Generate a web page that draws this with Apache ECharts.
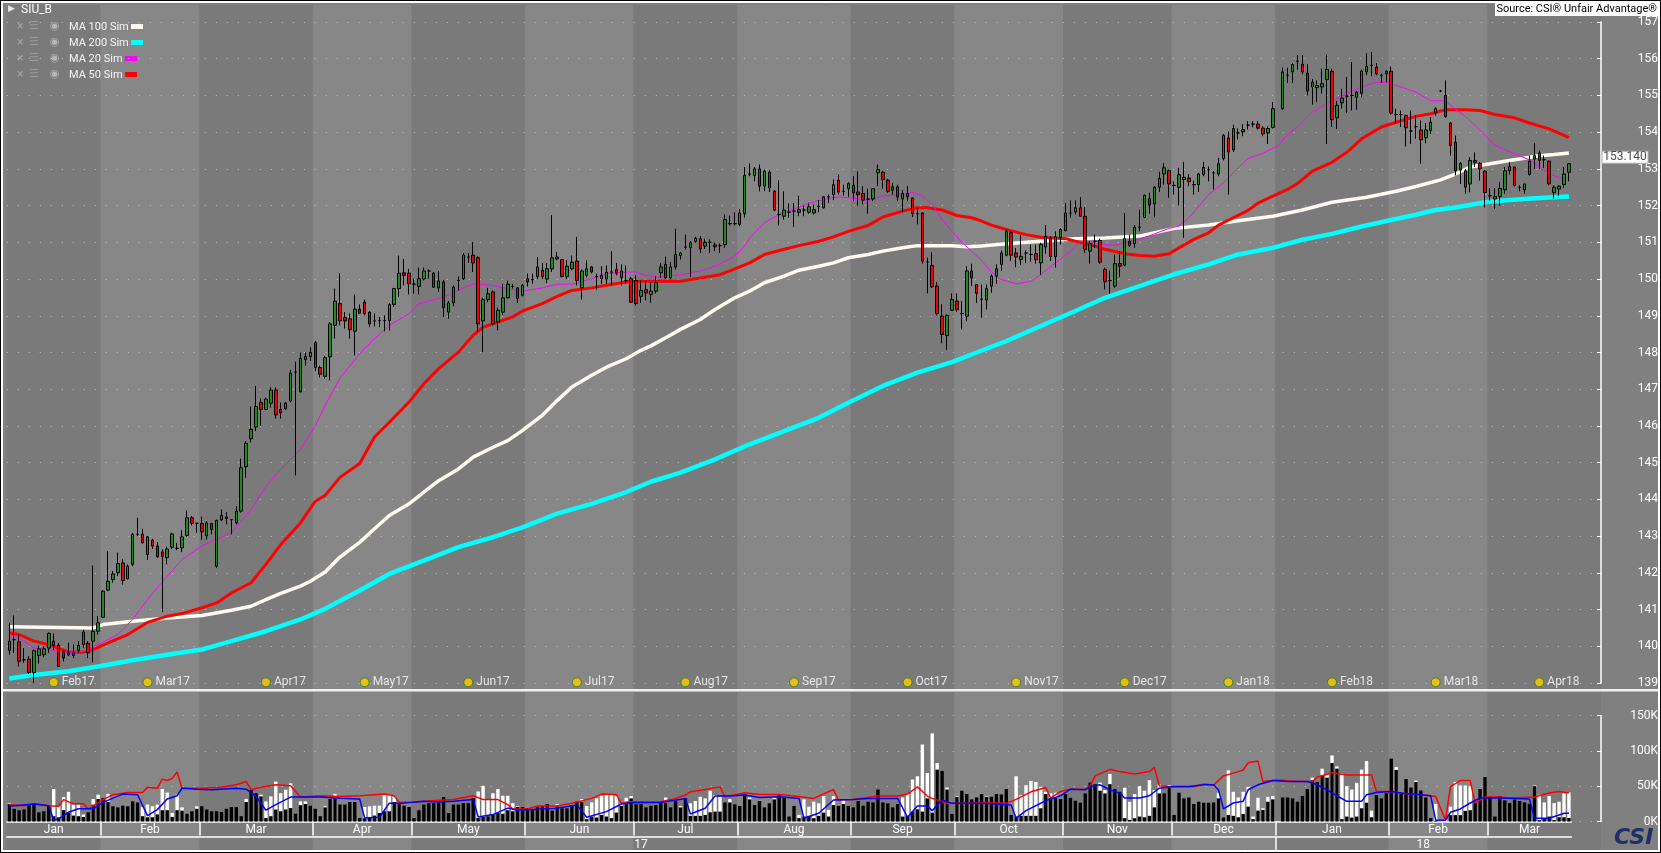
<!DOCTYPE html>
<html>
<head>
<meta charset="utf-8">
<title>SIU_B</title>
<script src="https://cdn.jsdelivr.net/npm/echarts@6/dist/echarts.min.js"></script>
<style>
  html, body { margin: 0; padding: 0; background: #808080; }
  #main { width: 1661px; height: 853px; }
</style>
</head>
<body>
<div id="main"></div>
<script>
// daily bars, [open, high, low, close]; null = no bar
var candles = [
  [139.89,140.64,139.77,140.14],[140.18,140.84,139.82,140.18],[140.12,140.32,139.45,139.59],[139.63,139.95,139.55,139.63],[139.65,139.73,139.25,139.29],
  [139.29,139.91,139.0,139.88],[139.75,140.02,139.53,139.93],[139.77,140.0,139.7,139.93],[139.95,140.38,139.82,140.35],[140.14,140.35,139.9,140.02],
  [140.03,140.09,139.45,139.45],[139.85,139.91,139.59,139.68],[139.77,140.1,139.73,139.82],[139.75,140.05,139.68,139.82],[139.89,140.14,139.82,140.02],
  [140.05,140.45,139.95,140.39],[140.08,140.14,139.68,139.82],[140.14,142.2,139.56,140.41],[140.41,140.82,140.32,140.64],[140.79,141.53,140.77,141.5],
  [141.53,142.59,141.5,141.77],[141.82,142.05,141.73,141.97],[142.0,142.55,141.91,142.25],[142.27,142.38,141.68,141.79],[141.84,142.23,141.82,142.18],
  [142.23,143.09,142.18,143.05],[143.05,143.5,143.0,143.05],[143.05,143.2,142.8,142.82],[142.5,143.0,142.35,142.98],[142.89,142.93,142.65,142.73],
  [142.73,142.84,142.41,142.44],[142.57,142.64,140.93,142.45],[142.41,142.71,142.23,142.65],[142.7,143.09,142.65,143.06],[142.67,142.82,142.62,142.67],
  [142.68,143.16,142.56,142.98],[143.02,143.7,142.98,143.5],[143.5,143.55,143.29,143.35],[143.35,143.36,143.09,143.35],[143.34,143.53,142.9,143.12],
  [143.0,143.41,142.91,143.36],[143.34,143.36,143.05,143.18],[142.18,143.45,142.14,143.43],[143.44,143.73,143.41,143.56],[143.48,143.65,143.32,143.52],
  [143.45,143.46,143.05,143.45],[143.36,143.82,143.32,143.68],[143.68,145.11,143.64,144.86],[144.89,145.59,144.59,145.53],[145.65,146.53,145.55,145.91],
  [145.97,147.09,145.86,146.53],[146.64,146.75,146.0,146.45],[146.45,146.77,146.44,146.73],[146.62,147.05,146.5,146.98],[146.98,147.05,146.2,146.3],
  [146.45,146.64,146.2,146.36],[146.47,146.65,146.44,146.62],[146.68,147.53,146.65,147.44],[147.47,147.75,144.65,147.47],[146.93,148.0,146.91,147.84],
  [147.8,148.0,147.64,147.89],[147.89,148.14,147.77,148.0],[148.27,148.32,147.5,147.59],[147.59,147.64,147.32,147.41],[147.35,147.91,147.29,147.86],
  [147.88,148.83,147.24,148.78],[148.74,149.74,148.38,149.4],[149.33,150.16,148.74,148.86],[148.95,149.1,148.65,148.86],[148.92,149.06,148.38,148.62],
  [148.58,149.58,147.92,149.18],[149.18,149.31,149.06,149.07],[149.37,149.44,149.01,149.06],[149.1,149.13,148.69,148.78],[148.86,149.07,148.71,148.86],
  [148.87,148.97,148.69,148.87],[148.87,149.01,148.58,148.87],[148.87,149.35,148.6,149.31],[149.31,149.76,149.24,149.74],[149.74,150.64,149.51,150.16],
  [150.17,150.55,149.83,150.1],[150.16,150.28,149.58,149.87],[149.86,150.01,149.6,149.86],[149.8,150.31,149.58,150.01],[150.0,150.31,149.96,150.22],
  [150.22,150.26,150.01,150.22],[150.16,150.19,149.76,149.78],[149.76,150.22,149.65,149.95],[149.92,149.98,148.97,149.22],[149.1,149.4,148.92,149.35],
  [149.35,149.83,149.26,149.78],[149.96,150.07,149.69,149.96],[150.01,150.71,149.98,150.65],[150.6,150.71,150.44,150.6],[150.65,151.01,150.19,150.44],
  [150.58,150.62,148.56,148.78],[148.86,149.49,148.01,149.44],[149.44,149.76,149.37,149.6],[149.65,149.69,148.74,148.78],[148.83,149.22,148.6,149.15],
  [149.1,149.87,149.01,149.49],[149.49,149.96,149.47,149.86],[149.8,149.87,149.74,149.8],[149.76,149.78,149.35,149.47],[149.56,149.87,149.53,149.83],
  [150.01,150.15,149.8,149.92],[149.99,150.15,149.87,149.99],[150.07,150.6,150.0,150.33],[150.24,150.44,150.0,150.07],[150.0,150.44,149.89,150.28],
  [150.28,151.74,150.19,150.58],[150.6,150.74,150.51,150.55],[150.53,150.55,150.04,150.07],[150.07,150.51,150.0,150.35],[150.28,150.64,150.24,150.46],
  [150.49,151.15,149.83,149.96],[149.76,150.26,149.44,150.22],[150.1,150.51,150.04,150.28],[150.33,150.35,150.15,150.19],[150.07,150.15,149.71,150.07],
  [150.1,150.35,149.87,150.01],[150.0,150.37,149.87,150.19],[150.19,150.76,149.83,150.19],[150.26,150.44,150.1,150.16],[150.04,150.4,149.83,150.22],
  [149.96,150.37,149.87,149.96],[150.01,150.06,149.35,149.37],[149.96,150.1,149.28,149.33],[149.53,149.96,149.35,149.69],[149.71,149.96,149.42,149.62],
  [149.58,149.92,149.35,149.67],[149.67,150.08,149.61,149.9],[150.17,150.44,150.03,150.33],[150.4,150.61,150.01,150.03],[150.03,150.46,149.99,150.33],
  [150.33,151.37,150.26,150.67],[150.64,150.73,150.53,150.71],[150.87,151.21,150.8,150.87],[150.85,151.03,150.06,150.99],[151.03,151.15,150.99,151.11],
  [151.1,151.17,150.71,150.82],[150.9,151.1,150.82,151.0],[151.0,151.08,150.71,151.0],[150.93,150.99,150.76,150.88],[150.91,150.97,150.71,150.91],
  [150.94,151.76,150.85,151.62],[151.51,151.73,151.46,151.51],[151.51,151.82,151.46,151.51],[151.49,151.91,151.44,151.8],[151.78,153.05,151.67,152.82],
  [152.86,153.15,152.8,152.86],[152.82,153.05,152.66,153.0],[153.0,153.12,152.39,152.53],[152.53,152.98,152.39,152.94],[152.91,152.96,152.37,152.48],
  [152.39,152.42,151.85,151.88],[151.76,152.69,151.46,151.76],[151.71,152.39,151.62,151.88],[151.82,152.06,151.67,151.82],[151.85,152.07,151.42,151.85],
  [151.82,152.27,151.71,151.89],[151.88,152.0,151.71,151.88],[151.82,152.06,151.78,151.97],[151.8,152.03,151.76,151.89],[151.98,152.15,151.82,151.98],
  [151.94,152.26,151.92,152.24],[152.24,152.3,152.07,152.24],[152.3,152.71,152.15,152.57],[152.69,152.85,152.3,152.37],[152.39,152.57,152.27,152.39],
  [152.46,152.64,152.24,152.6],[152.55,152.8,152.12,152.35],[152.37,152.93,152.0,152.3],[152.33,152.53,152.03,152.15],[152.18,152.46,151.78,152.18],
  [152.18,152.48,152.12,152.46],[152.89,153.12,152.53,152.98],[152.91,152.94,152.46,152.71],[152.69,152.73,152.35,152.39],[152.42,152.62,152.3,152.51],
  [152.51,152.57,152.12,152.24],[152.18,152.42,151.82,152.33],[152.33,152.53,152.12,152.24],[152.21,152.21,151.69,151.78],[151.78,151.94,151.49,151.78],
  [151.8,151.82,150.42,150.49],[150.46,150.58,149.61,150.46],[150.37,150.73,149.76,149.79],[149.81,149.92,149.01,149.06],[148.99,149.31,148.25,148.49],
  [148.46,149.04,148.07,149.01],[149.15,149.61,149.13,149.44],[149.4,149.61,149.1,149.17],[149.06,149.4,148.63,149.06],[148.99,150.35,148.85,150.22],
  [150.22,150.42,149.81,150.03],[149.85,149.85,149.35,149.61],[149.45,149.85,148.95,149.45],[149.43,149.85,149.17,149.74],[149.81,150.13,149.63,150.08],
  [150.08,150.4,149.87,150.28],[150.4,150.78,150.22,150.71],[150.65,151.35,150.62,151.29],[151.26,151.29,150.49,150.65],[150.71,150.85,150.32,150.6],
  [150.53,151.2,150.38,150.62],[150.71,150.78,150.44,150.71],[150.67,150.94,150.47,150.67],[150.69,150.94,150.42,150.53],[150.44,150.99,150.11,150.94],
  [150.87,151.47,150.69,151.17],[151.12,151.17,150.49,150.61],[150.61,151.3,150.31,151.15],[151.14,151.39,150.94,151.35],[151.32,152.07,151.3,151.8],
  [151.8,152.14,151.67,151.8],[151.83,152.14,151.76,151.94],[151.94,152.23,151.69,151.71],[151.71,151.96,150.71,150.81],[150.76,151.03,150.42,150.96],
  [151.03,151.21,150.85,151.03],[151.05,151.1,150.42,150.46],[150.26,150.31,149.72,149.93],[149.96,150.23,149.6,149.96],[149.81,150.67,149.76,150.42],
  [150.42,150.76,150.05,150.35],[150.38,151.8,150.35,151.1],[151.03,151.21,150.87,150.92],[150.96,151.47,150.85,151.41],[151.41,151.89,151.3,151.41],
  [151.68,152.3,151.66,152.28],[152.19,152.35,151.78,152.01],[152.05,152.53,151.68,152.5],[152.5,152.92,152.37,152.74],[152.86,153.16,152.57,153.03],
  [152.95,152.98,152.21,152.59],[152.55,152.66,152.3,152.55],[152.5,153.03,152.01,152.84],[152.71,153.19,151.12,152.77],[152.75,152.86,152.53,152.65],
  [152.57,152.68,152.3,152.57],[152.57,152.89,152.37,152.86],[152.85,153.19,152.8,153.04],[152.98,153.07,152.66,152.98],[152.89,152.94,152.44,152.89],
  [152.86,153.3,152.8,153.14],[153.28,153.95,153.23,153.91],[153.84,154.02,152.3,153.46],[153.52,154.2,153.46,154.1],[153.98,154.1,153.8,153.98],
  [154.01,154.22,153.89,154.07],[154.19,154.3,154.07,154.19],[154.22,154.3,154.13,154.22],[154.22,154.3,154.07,154.11],[154.11,154.16,153.89,153.95],
  [153.98,154.16,153.68,154.1],[154.13,154.82,154.1,154.64],null,[154.64,155.76,154.61,155.64],[155.55,155.75,155.34,155.55],
  [155.64,155.88,155.34,155.84],[155.93,156.1,155.7,155.93],[155.85,156.1,155.58,155.64],[155.61,155.85,155.0,155.12],[155.23,155.45,154.75,155.36],
  [155.21,155.41,154.82,155.27],[155.23,155.73,155.05,155.32],[155.43,156.12,153.68,155.71],[155.66,155.73,154.14,154.34],[154.39,154.85,154.09,154.73],
  [154.8,155.18,154.64,154.93],[154.98,155.5,154.52,154.98],[155.0,155.91,154.59,155.0],[154.95,155.12,154.61,155.09],[155.06,155.7,154.95,155.66],
  [155.64,156.15,155.55,155.79],[155.82,156.18,155.52,155.82],[155.77,155.88,155.55,155.59],[155.55,155.59,155.34,155.55],[155.59,155.68,155.36,155.66],
  [155.66,155.79,154.48,154.52],[154.48,154.64,154.23,154.48],[154.48,154.59,154.14,154.48],[154.45,154.48,153.61,154.12],[154.03,154.59,153.68,154.03],
  [154.15,154.45,153.82,154.15],[154.06,154.32,153.14,153.79],[153.85,154.25,153.7,154.06],[154.05,154.41,153.95,154.27],[154.52,154.68,154.45,154.64],
  [155.12,155.14,155.1,155.12],[155.0,155.41,154.39,154.43],[154.25,154.27,153.36,153.64],[153.73,153.91,152.82,152.95],[152.97,153.18,152.59,153.15],
  [152.95,153.0,152.32,152.5],[152.59,153.32,152.36,153.23],[153.23,153.45,153.05,153.18],[153.15,153.18,152.68,153.0],[152.94,152.97,151.95,152.36],
  [152.27,152.48,152.14,152.27],[152.18,152.48,151.91,152.25],[152.25,152.64,152.0,152.47],[152.43,153.05,152.32,152.95],[152.95,153.18,152.85,153.06],
  [153.05,153.06,152.52,152.55],[152.5,152.55,152.39,152.5],[152.43,152.59,152.32,152.59],[152.85,153.36,152.82,153.21],[153.27,153.7,153.0,153.36],
  [153.43,153.5,153.0,153.23],[153.25,153.36,153.03,153.25],[153.21,153.23,152.55,152.59],[152.36,152.55,152.18,152.5],[152.45,152.55,152.27,152.53],
  [152.57,153.05,152.48,152.86],[152.91,153.15,152.66,153.14]
];

// moving averages, [bar index, value]
var ma100 = [[0,140.53],[17,140.5],[19,140.59],[25,140.68],[32,140.77],[39,140.84],[45,140.98],[49,141.09],[52,141.27],[55,141.44],[59,141.64],[61,141.77],[64,142.02],[67,142.43],[71,142.83],[74,143.2],[77,143.56],[81,143.88],[84,144.2],[87,144.51],[91,144.83],[94,145.15],[98,145.42],[101,145.6],[104,145.88],[108,146.29],[111,146.69],[114,147.06],[118,147.38],[121,147.6],[125,147.83],[128,148.06],[130,148.18],[133,148.4],[136,148.63],[140,148.9],[143,149.17],[147,149.49],[150,149.67],[153,149.9],[157,150.08],[160,150.24],[164,150.35],[167,150.44],[170,150.58],[174,150.67],[177,150.76],[181,150.85],[184,150.91],[187,150.91],[191,150.91],[194,150.88],[197,150.9],[202,150.96],[209,151.03],[216,151.1],[222,151.12],[229,151.17],[236,151.38],[243,151.47],[249,151.59],[256,151.71],[262,151.88],[268,152.09],[275,152.23],[281,152.39],[285,152.52],[290,152.7],[293,152.86],[296,153.05],[300,153.14],[303,153.21],[306,153.27],[310,153.36],[313,153.39],[316,153.43]];
var ma200 = [[0,139.12],[5,139.22],[12,139.32],[18,139.45],[25,139.62],[32,139.77],[39,139.91],[45,140.14],[52,140.41],[59,140.73],[64,141.02],[71,141.52],[77,141.97],[84,142.33],[91,142.7],[98,142.97],[104,143.24],[111,143.61],[118,143.88],[125,144.2],[130,144.48],[136,144.73],[143,145.09],[150,145.5],[157,145.86],[164,146.22],[170,146.63],[177,147.09],[184,147.45],[191,147.74],[196,148.0],[202,148.31],[209,148.72],[216,149.13],[222,149.49],[229,149.81],[236,150.13],[243,150.4],[249,150.67],[256,150.85],[262,151.07],[268,151.23],[274,151.43],[280,151.61],[285,151.75],[289,151.88],[293,151.95],[299,152.09],[304,152.15],[310,152.21],[316,152.25]];
var ma50 = [[0,140.36],[2,140.32],[5,140.14],[8,140.05],[12,139.84],[15,139.84],[17,139.91],[20,140.09],[24,140.32],[28,140.65],[32,140.82],[35,140.89],[39,141.05],[42,141.18],[45,141.45],[49,141.73],[52,142.23],[55,142.77],[59,143.36],[62,143.95],[64,144.11],[67,144.6],[71,144.98],[74,145.7],[77,146.1],[81,146.65],[84,147.15],[87,147.56],[91,148.01],[94,148.47],[96,148.69],[99,148.83],[102,148.97],[104,149.13],[108,149.33],[111,149.53],[114,149.69],[118,149.76],[121,149.83],[125,149.92],[128,149.94],[131,149.94],[136,149.94],[140,150.03],[144,150.12],[147,150.28],[150,150.44],[153,150.67],[157,150.81],[160,150.91],[164,151.03],[167,151.15],[170,151.3],[174,151.46],[177,151.69],[181,151.85],[184,151.94],[186,151.94],[189,151.88],[192,151.73],[195,151.67],[197,151.58],[199,151.47],[202,151.35],[206,151.21],[209,151.14],[214,151.1],[216,151.03],[219,150.94],[222,150.81],[226,150.69],[229,150.64],[232,150.62],[235,150.69],[237,150.85],[240,151.08],[243,151.26],[245,151.47],[248,151.67],[251,151.87],[253,152.07],[256,152.26],[259,152.44],[261,152.6],[264,152.94],[268,153.18],[271,153.45],[274,153.82],[278,154.14],[281,154.27],[285,154.43],[288,154.5],[291,154.61],[295,154.61],[298,154.59],[301,154.48],[305,154.39],[308,154.25],[312,154.09],[315,153.91],[316,153.85]];
var ma20 = [[0,140.32],[2,140.23],[5,139.95],[8,139.91],[12,139.82],[15,139.86],[18,140.05],[22,140.32],[25,140.73],[28,141.27],[32,141.91],[35,142.36],[39,142.73],[42,142.91],[45,143.09],[49,143.73],[52,144.36],[55,144.82],[59,145.36],[62,146.0],[64,146.56],[67,147.3],[71,147.97],[74,148.38],[77,148.74],[81,149.06],[83,149.33],[85,149.4],[87,149.47],[89,149.56],[92,149.76],[94,149.86],[96,149.86],[99,149.8],[102,149.71],[104,149.67],[108,149.76],[111,149.86],[114,149.86],[118,150.01],[121,150.15],[125,150.19],[127,150.19],[129,150.1],[131,150.05],[136,150.12],[140,150.22],[143,150.35],[147,150.62],[149,150.9],[150,151.12],[153,151.53],[155,151.69],[158,151.85],[162,152.07],[165,152.17],[168,152.24],[172,152.18],[174,152.14],[177,152.26],[181,152.3],[183,152.37],[185,152.26],[187,152.03],[189,151.62],[191,151.3],[193,151.0],[195,150.76],[197,150.5],[199,150.2],[201,149.99],[204,149.87],[207,149.94],[209,150.13],[212,150.44],[215,150.76],[217,151.03],[219,151.01],[222,150.94],[224,150.92],[226,150.99],[229,151.08],[232,151.23],[235,151.38],[237,151.44],[239,151.67],[241,151.98],[243,152.3],[246,152.62],[249,153.03],[251,153.28],[254,153.43],[257,153.62],[259,153.93],[261,154.14],[264,154.55],[268,154.85],[271,155.05],[274,155.23],[277,155.36],[279,155.36],[281,155.27],[285,155.09],[288,154.86],[291,154.85],[292,154.73],[295,154.43],[298,154.05],[301,153.64],[305,153.41],[308,153.25],[310,153.05],[312,152.86],[314,152.77],[316,152.75]];

// volume panel, thousands
var volBlack = [
  25,18,16,17,24,25,13,14.5,22,7.5, 6,16,13,8.4,7.5,6.5,13,23.8,31.8,33,
  27.6,21.5,20,22.4,21.5,28.5,27,7.5,6,6, 10,16,16,6.5,16,15.4,11,14.5,18,21.5,
  17,14.5,14.5,13.5,18,20.5,20.5,7.5,27.6,45, 40,35.5,5,7.5,17,14.5,17,19,11,23,
  24.8,22.4,18,7.5,20,32,33,24,24,27.6, 27.6,5,4.7,6,8.4,12,14.5,14.5,27.6,24.8,
  22.4,20.5,5,16,24,26,26,27,34.6,12, 24,24,26,26,33,5,6.5,7.5,10,12,
  11,16,14.5,20.5,20.5,19,17.3,21,22,24.8, 15.4,22,18.7,18.7,23.4,28,28,3.3,7,5.6,
  9.3,7,4.7,12.6,22,28,32.7,24.3,24.8,20, 22.4,23.4,26.6,27,20,29.4,20,32.7,8,8,
  8,9.3,13,14,14,27,27,24.3,22,38.8, 31.3,23.4,29,20,25.7,31.3,37.4,34,7,22,
  4.7,7,8,4.7,8,12.6,7,23.4,22,24.8, 22,20,29,22.4,28,27,45.3,27,25.7,20,
  24.8,7,8,14,17.3,14,32.7,12.6,73.4,71.5, 45.3,10.7,35,43.5,38.8,31.3,34,38.8,35,35,
  38.8,38.3,45.8,9.3,7,8,8,8,8,18.7, 38.8,32.7,34,31.8,38.8,33.6,29.4,26.6,39.7,55,
  52.8,43.5,39.7,52.8,45.8,42,4.7,2.3,4.7,7, 6,8,20,39.7,39.7,48,9.3,40.7,32.7,34,
  24.8,28,26.6,26.6,27,32.7,5.6,9.3,8,6, 10.7,21,3.3,15.4,16.4,28,31.3,0,34,34,
  32.7,28,36,45.8,58.4,56,65.4,62,82.7,74.8, 3.3,7,5.6,7,18.7,26.6,6,37.4,32.7,40,
  89,73,41,60,48,56,44,34,5,1, 0,0,9,9,9,15,16,27,46,63,
  35,7,36,30,26,31,29,27,25,50, 2,4,7,2,6,6,5
];
var volWhite = [
  26,0,0,0,0,0,0,0,0,46, 21.5,34.6,42,24,24,10,0,31.8,37.9,0,
  39,0,0,0,0,0,0,20.5,24,21.5, 24,46,41,12,38,20,0,0,21.5,0,
  0,0,0,0,0,0,0,0,32,0, 0,38,28.5,35.5,56.5,40,45,54,0,28.5,
  28.5,0,0,0,21.5,0,39,0,0,0, 0,0,20.5,21.5,22.4,22.4,39,38,35.5,26,
  0,0,0,0,0,0,0,0,0,0, 0,0,0,0,0,42.5,50.5,31,40,46,
  36.4,36.4,26,21.5,0,0,0,0,0,0, 0,24.8,0,0,0,0,31.8,22,27,32.7,
  36.4,37.4,37.4,36,25.7,33.6,36,0,0,0, 0,0,0,34,0,0,22,0,25.7,29,
  35,32.7,43.5,37.4,35,0,31.8,0,0,0, 34,0,0,0,0,34,0,0,0,0,
  9.3,31.3,21,28,25.7,36,16.4,36,0,31.3, 0,0,0,0,0,0,0,0,0,0,
  0,34,38.8,59.3,64,108.9,68.7,124.8,82.7,0, 48,0,36,0,0,0,0,0,36,0,
  0,0,0,0,64,37.4,51.4,57.5,56,49, 42,39.7,40.7,0,0,0,0,0,0,0,
  0,55,44.4,67.3,0,0,47.7,28,38.8,50, 43.5,58.4,44.4,52.3,0,51.4,0,0,0,0,
  0,0,0,0,0,40.7,0,72.4,42,34, 42,49,7,33.6,18.7,35,36,0,0,0,
  0,0,0,0,62,0,74.8,67.3,93.5,78, 67.8,50,45.3,54.7,73.4,85.5,15.4,0,0,0,
  0,77,0,0,0,58,0,0,0,25, 0,3,21,56,51,51,50,0,0,0,
  0,0,0,0,0,0,0,0,0,51, 38,27,36,26,28,40,41
];
var volRed = [[0,23.8],[3,22.4],[5,25],[8,22.4],[10,21.5],[11,31],[13,25],[15,25],[16,18],[19,31],[21,38],[24,41],[27,41],[28,48.6],[30,47],[31,60],[32,58],[33,61],[34,70],[35,47],[39,47],[43,48.6],[46,52],[48,56.5],[49,45],[51,48.6],[54,52],[57,50.5],[59,34.6],[63,36.4],[67,35.5],[71,36.4],[76,39],[78,36.4],[79,27],[82,27.6],[87,30],[90,31],[94,36.4],[96,31],[99,31],[101,23.8],[102,17.8],[105,17.8],[107,22],[111,22],[114,25.7],[118,32.7],[120,38.8],[123,38.3],[124,25.7],[126,28],[132,28],[135,32.7],[137,37.4],[138,42],[141,45.3],[144,49],[145,35],[149,40.7],[152,38.3],[156,38.3],[159,36],[163,32.7],[167,45.3],[168,30.4],[171,31.3],[176,36],[180,36],[182,38.8],[184,49],[186,36],[187,32.7],[190,25.7],[193,25.7],[197,26.6],[202,25.7],[204,31.3],[207,42],[210,48],[211,33],[213,42.5],[215,45.8],[218,45.8],[219,50.5],[220,64.5],[223,73.8],[225,70.6],[228,67.3],[231,70.6],[232,76.6],[233,50.5],[236,49],[240,49],[242,53],[244,51.5],[246,64.5],[249,70.6],[250,72.9],[251,83],[253,85.5],[254,56.5],[257,58.8],[261,56.5],[264,56.5],[265,62.6],[268,69],[271,65.8],[276,65.8],[277,42.5],[280,42.5],[283,39.3],[286,37.9],[289,35.5],[291,1.9],[292,49.5],[294,57.9],[296,57.9],[297,26],[299,34.6],[302,34.6],[304,33.2],[309,34.6],[312,40.2],[314,42.5],[316,40.2]];
var volBlue = [[0,21.5],[5,24.8],[8,22.4],[9,2],[10,3.7],[12,13],[14,18],[17,18],[19,27],[21,33],[23,38.8],[26,37.9],[28,8.4],[30,16.8],[32,31.8],[34,36.4],[35,47],[38,45.8],[41,45],[46,47],[48,45.8],[50,35.5],[52,16],[54,23.8],[57,34.6],[60,34.6],[63,34.6],[67,33],[71,31.8],[72,5],[75,6],[77,26],[80,26],[84,28.5],[87,27.6],[90,28.5],[94,31],[95,6.5],[98,9.8],[101,19],[103,16],[105,16.8],[111,18.7],[115,23.4],[117,6],[121,14],[124,24.8],[126,26.6],[132,27],[137,32.7],[138,10.7],[141,18.7],[143,36],[146,36],[149,37.4],[152,34],[156,35],[160,32.7],[161,4.7],[164,11.7],[167,30.4],[171,31.3],[174,32.7],[180,32.7],[182,6],[184,22],[186,22],[187,15.4],[189,30.4],[191,25.7],[197,25.7],[203,23.4],[204,4.7],[206,15.4],[210,29.4],[211,31.8],[213,36.4],[215,45.8],[218,44.9],[219,49.5],[221,51.9],[223,44.9],[225,40.2],[226,33.2],[229,33.2],[231,36.4],[233,47.2],[236,49.5],[239,49.5],[242,51.9],[244,51.9],[245,44.9],[246,17.8],[248,26.2],[250,28.5],[251,44.9],[253,51.9],[256,57.9],[259,56.5],[263,56.5],[265,51.9],[267,44.9],[269,36.4],[271,28.5],[274,28.5],[275,37.9],[277,41.1],[280,42.5],[283,39.3],[286,37.9],[288,36.4],[289,1.9],[291,1.9],[292,13],[294,17.8],[296,26.2],[298,33.2],[302,33.2],[308,31.8],[309,4.7],[312,4.7],[314,9.3],[315,11.7],[316,11.7]];

// calendar
var monthStarts = [0, 19, 39, 62, 82, 105, 127, 148, 171, 192, 214, 236, 257, 280, 300];
var monthNames = ['Jan','Feb','Mar','Apr','May','Jun','Jul','Aug','Sep','Oct','Nov','Dec','Jan','Feb','Mar'];
var yearStarts = [0, 257];
var yearNames = ['17', '18'];
var expiryIdx = [9, 28, 52, 72, 93, 115, 137, 159, 182, 204, 226, 247, 268, 289, 310];
var expiryNames = ['Feb17','Mar17','Apr17','May17','Jun17','Jul17','Aug17','Sep17','Oct17','Nov17','Dec17','Jan18','Feb18','Mar18','Apr18'];
var priceTicks = { min: 139, max: 157, step: 1 };
var volTicks = { min: 0, max: 150, step: 50 };

var NCAT = 323;          // bars plus empty room up to the price axis
var NBARS = candles.length;
var LEFT = 6.8, RIGHT = 60;
var BW = (1661 - LEFT - RIGHT) / NCAT;
var FONT = 'Roboto, "Liberation Sans", sans-serif';

var cats = [];
for (var i = 0; i < NCAT; i++) cats.push(String(i));

var candleData = candles.map(function (r) {
  return r ? [r[0], r[3], r[2], r[1]] : ['-', '-', '-', '-'];
});
var lastClose = candles[NBARS - 1][3];

var bands = monthStarts.map(function (s, k) {
  return [s, k + 1 < monthStarts.length ? monthStarts[k + 1] : NCAT, k % 2];
});

var monthMid = monthStarts.map(function (s, k) {
  var e = k + 1 < monthStarts.length ? monthStarts[k + 1] : NBARS;
  return (s + e) / 2;
});
var yearMid = yearStarts.map(function (s, k) {
  var e = k + 1 < yearStarts.length ? yearStarts[k + 1] : NBARS;
  return (s + e) / 2;
});
function nameAt(mids, names) {
  return function (v) {
    for (var k = 0; k < mids.length; k++) if (Math.abs(mids[k] - v) < 0.01) return names[k];
    return '';
  };
}

function renderBand(params, api) {
  var s = api.value(0), e = api.value(1), shade = api.value(2);
  var bw = api.size([1, 0])[0];
  var a = api.coord([s, 1]), b = api.coord([e - 1, 0]);
  return {
    type: 'rect',
    shape: { x: a[0] - bw / 2, y: a[1], width: b[0] - a[0] + bw, height: b[1] - a[1] },
    style: { fill: shade ? '#878787' : '#7a7a7a' }
  };
}

var hiddenCat = function (g) {
  return { type: 'category', gridIndex: g, data: cats, show: false, boundaryGap: true };
};
var hiddenY = function (g) {
  return { type: 'value', gridIndex: g, min: 0, max: 1, show: false };
};
function rightAxis(g, ticks, fmt) {
  return {
    type: 'value', gridIndex: g, position: 'right',
    min: ticks.min, max: ticks.max, interval: ticks.step,
    axisLine: { show: true, lineStyle: { color: '#ffffff', width: 1.5 } },
    axisTick: { show: true, inside: true, length: 4, lineStyle: { color: '#ffffff' } },
    axisLabel: { color: '#ffffff', fontSize: 12, fontFamily: FONT, align: 'right', margin: 57, formatter: fmt },
    splitLine: { show: true, lineStyle: { color: '#c4c4c4', type: [1, 10], width: 1 } }
  };
}
function dateAxis(g, tickVals, labelVals, fmt) {
  return {
    type: 'value', gridIndex: g, min: 0, max: NBARS, position: 'bottom',
    axisLine: { show: true, lineStyle: { color: '#ffffff', width: 1.5 } },
    axisTick: { show: true, customValues: tickVals, length: 14, lineStyle: { color: '#ffffff', width: 1.5 } },
    axisLabel: { customValues: labelVals, formatter: fmt, color: '#ffffff', fontSize: 12, fontFamily: FONT, margin: 2 },
    splitLine: { show: false }
  };
}
function maLine(data, color, width, z) {
  return {
    type: 'line', xAxisIndex: 1, yAxisIndex: 1, data: data, symbol: 'none',
    lineStyle: { color: color, width: width }, z: z, silent: true
  };
}

var chart = echarts.init(document.getElementById('main'), null, { renderer: 'canvas' });

var legendRows = [
  { name: 'MA 100 Sim', color: '#fffbf0', sw: 131 },
  { name: 'MA 200 Sim', color: '#00ffff', sw: 131 },
  { name: 'MA 20 Sim', color: '#ff00ff', sw: 125 },
  { name: 'MA 50 Sim', color: '#ff0000', sw: 125 }
];
var graphics = [
  { id: 'tri', type: 'text', left: 8, top: 4, style: { text: '\u25B6', fill: '#e8e8e8', font: '9px ' + FONT } },
  { id: 'sym', type: 'text', left: 21, top: 4, style: { text: 'SIU_B', fill: '#ffffff', font: '12px ' + FONT } }
];
legendRows.forEach(function (r, k) {
  var y = 21 + k * 16;
  graphics.push({ id: 'x' + k, type: 'text', left: 17, top: y, style: { text: '\u00D7', fill: '#a8a8a8', font: '12px ' + FONT } });
  graphics.push({ id: 'm' + k, type: 'text', left: 29, top: y, style: { text: '\u2630', fill: '#9c9c9c', font: '11px "DejaVu Sans"' } });
  graphics.push({ id: 'e' + k, type: 'text', left: 50, top: y, style: { text: '\u25C9', fill: '#b4b8b4', font: '11px "DejaVu Sans"' } });
  graphics.push({ id: 'n' + k, type: 'text', left: 69, top: y + 0.5, style: { text: r.name, fill: '#f6f6f6', font: '11px ' + FONT } });
  graphics.push({ id: 's' + k, type: 'rect', shape: { x: r.sw, y: y + 3, width: 12, height: 5 }, style: { fill: r.color } });
});
graphics.push(
  { id: 'srcBox', type: 'rect', shape: { x: 1495, y: 3, width: 163, height: 13 }, style: { fill: '#ffffff' }, z: 10 },
  { id: 'src', type: 'text', x: 1657, y: 9.5, z: 11,
    style: { text: 'Source: CSI\u00AE Unfair Advantage\u00AE', fill: '#000000', font: '11px ' + FONT,
      textAlign: 'right', textVerticalAlign: 'middle', align: 'right', verticalAlign: 'middle' } },
  { id: 'sep', type: 'rect', shape: { x: 0, y: 689, width: 1661, height: 2.5 }, style: { fill: '#f0f0f0' }, z: 10 },
  { id: 'logo', type: 'text', left: 1614, top: 827, z: 10, style: { text: 'CSI', fill: '#1d2f63', font: 'italic bold 22px "DejaVu Sans"' } },
  { id: 'frameIn', type: 'rect', shape: { x: 2, y: 2, width: 1657, height: 849 }, style: { fill: 'none', stroke: '#ffffff', lineWidth: 2 }, z: 20, silent: true },
  { id: 'frameOut', type: 'rect', shape: { x: 0.5, y: 0.5, width: 1660, height: 852 }, style: { fill: 'none', stroke: '#000000', lineWidth: 1 }, z: 21, silent: true }
);

var option = {
  animation: false,
  backgroundColor: '#808080',
  textStyle: { fontFamily: FONT },
  grid: [
    { left: LEFT, right: RIGHT, top: 5, height: 684 },          // price background
    { left: LEFT, right: RIGHT, top: 22, height: 661 },         // price
    { left: LEFT, right: RIGHT, top: 692, height: 159 },        // volume background
    { left: LEFT, right: RIGHT, top: 715.5, height: 106 },      // volume
    { left: LEFT, width: NBARS * BW, top: 700, height: 121.5 }, // month row
    { left: LEFT, width: NBARS * BW, top: 700, height: 137 }    // year row
  ],
  xAxis: [
    hiddenCat(0), hiddenCat(1), hiddenCat(2), hiddenCat(3),
    dateAxis(4, monthStarts.slice(1), monthMid, nameAt(monthMid, monthNames)),
    dateAxis(5, yearStarts.slice(1), yearMid, nameAt(yearMid, yearNames))
  ],
  yAxis: [
    hiddenY(0),
    rightAxis(1, priceTicks),
    hiddenY(2),
    rightAxis(3, volTicks, '{value}K'),
    hiddenY(4),
    hiddenY(5)
  ],
  series: [
    { type: 'custom', xAxisIndex: 0, yAxisIndex: 0, data: bands, renderItem: renderBand, z: -1, silent: true },
    { type: 'custom', xAxisIndex: 2, yAxisIndex: 2, data: bands, renderItem: renderBand, z: -1, silent: true },

    maLine(ma200, '#00ffff', 4.5, 2),
    maLine(ma100, '#fffbf0', 3.5, 3),
    maLine(ma50, '#ff0000', 3, 4),
    maLine(ma20, '#ff00ff', 1, 5),
    {
      type: 'candlestick', xAxisIndex: 1, yAxisIndex: 1, data: candleData, barWidth: 3, z: 6,
      itemStyle: {
        color: '#1e8c1e', color0: '#f00000',
        borderColor: '#000000', borderColor0: '#000000', borderColorDoji: '#000000', borderWidth: 1
      },
      silent: true
    },
    {
      type: 'scatter', xAxisIndex: 1, yAxisIndex: 1, clip: false, z: 7, silent: true,
      data: expiryIdx.map(function (ix, k) { return [ix, 139.02, expiryNames[k]]; }),
      symbol: 'circle', symbolSize: 9,
      itemStyle: { color: '#ffcc00', borderColor: '#2a7a10', borderWidth: 1 },
      label: {
        show: true, position: 'right', distance: 3, color: '#ffffff', fontSize: 12, fontFamily: FONT,
        formatter: function (p) { return p.data[2]; }
      }
    },

    {
      type: 'bar', xAxisIndex: 3, yAxisIndex: 3, data: volWhite, barWidth: 3.4, barGap: '-100%',
      itemStyle: { color: '#ffffff' }, z: 3, silent: true
    },
    {
      type: 'bar', xAxisIndex: 3, yAxisIndex: 3, data: volBlack, barWidth: 3.4, barGap: '-100%',
      itemStyle: { color: '#000000' }, z: 4, silent: true
    },
    {
      type: 'line', xAxisIndex: 3, yAxisIndex: 3, data: volRed, symbol: 'none',
      lineStyle: { color: '#ff0000', width: 1.5 }, z: 5, silent: true
    },
    {
      type: 'line', xAxisIndex: 3, yAxisIndex: 3, data: volBlue, symbol: 'none',
      lineStyle: { color: '#0000ff', width: 1.5 }, z: 6, silent: true
    }
  ],
  graphic: graphics
};

chart.setOption(option);

// last price tag on the price axis
var tagY = chart.convertToPixel({ xAxisIndex: 1, yAxisIndex: 1 }, [NBARS - 1, lastClose])[1];
chart.setOption({
  graphic: [
    { id: 'tagBox', type: 'rect', shape: { x: 1602, y: tagY - 12.5, width: 46, height: 12 }, style: { fill: '#ffffff', stroke: '#b0b0b0', lineWidth: 1 }, z: 10 },
    { id: 'tagTxt', type: 'text', x: 1625, y: tagY - 6.5, z: 11,
      style: { text: lastClose.toFixed(3), fill: '#4a4a4a', font: '12px ' + FONT, textAlign: 'center', textVerticalAlign: 'middle', align: 'center', verticalAlign: 'middle' } }
  ]
});

window.onresize = function () {
  chart.resize();
};
</script>
</body>
</html>
